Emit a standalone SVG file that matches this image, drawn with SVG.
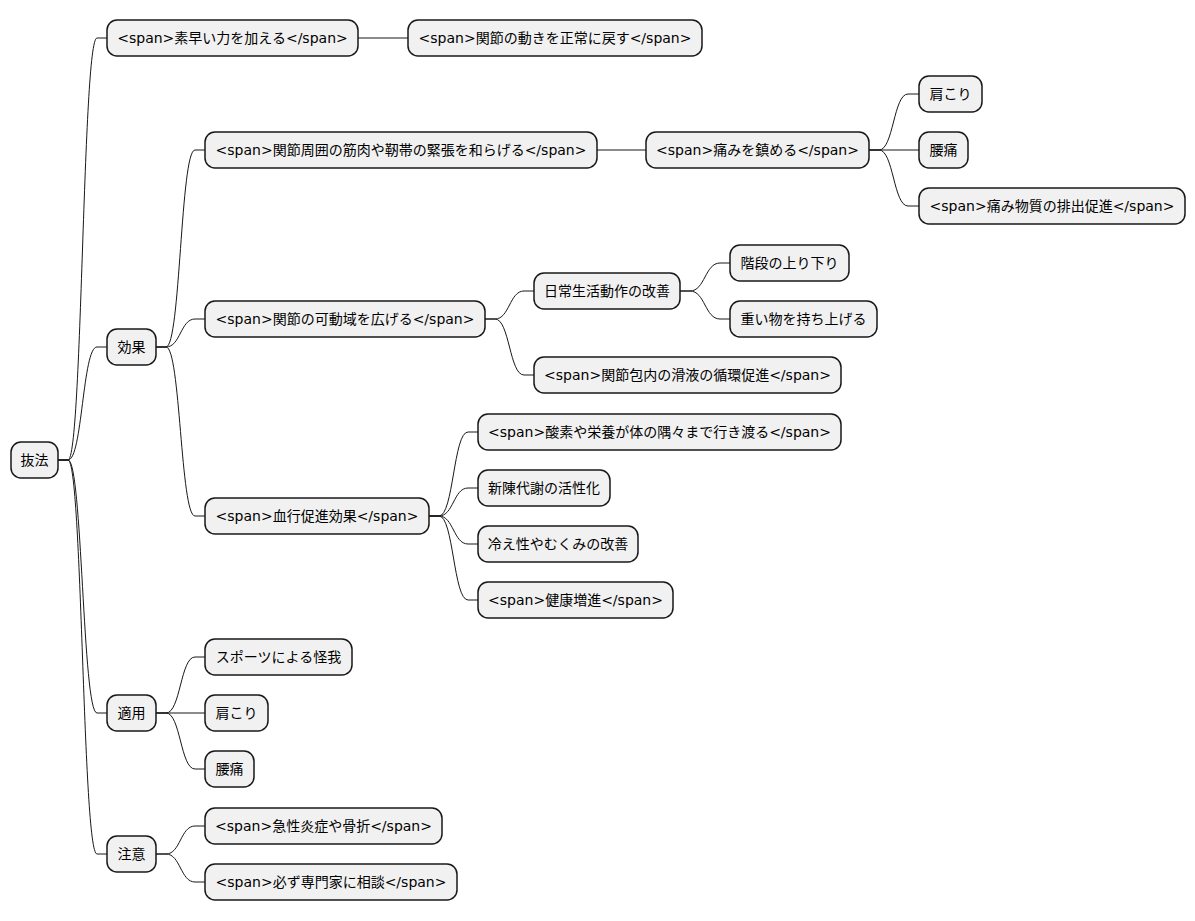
<svg xmlns="http://www.w3.org/2000/svg" width="1195" height="921" viewBox="0 0 1195 921">
<style>
.n rect{fill:#F1F1F1;stroke:#181818;stroke-width:1.5}
.n text{font-family:"DejaVu Sans","Noto Sans CJK JP",sans-serif;font-size:14px;fill:#000;text-anchor:middle}
#edges path{fill:none;stroke:#181818;stroke-width:1}
</style>
<rect width="1195" height="921" fill="#FFFFFF"/>
<g id="edges">
<path d="M58,460 L68,460 C82.5,460 82.5,38 97,38 L107,38"/>
<path d="M58,460 L68,460 C82.5,460 82.5,347 97,347 L107,347"/>
<path d="M58,460 L68,460 C82.5,460 82.5,713 97,713 L107,713"/>
<path d="M58,460 L68,460 C82.5,460 82.5,854 97,854 L107,854"/>
<path d="M358,38 L408,38"/>
<path d="M156,347 L166,347 C180.5,347 180.5,150 195,150 L205,150"/>
<path d="M156,347 L166,347 C180.5,347 180.5,319 195,319 L205,319"/>
<path d="M156,347 L166,347 C180.5,347 180.5,516 195,516 L205,516"/>
<path d="M597,150 L646,150"/>
<path d="M869,150 L879,150 C893.5,150 893.5,94 908,94 L919,94"/>
<path d="M869,150 L919,150"/>
<path d="M869,150 L879,150 C893.5,150 893.5,206 908,206 L919,206"/>
<path d="M485,319 L495,319 C509.5,319 509.5,291 524,291 L534,291"/>
<path d="M485,319 L495,319 C509.5,319 509.5,375 524,375 L534,375"/>
<path d="M680,291 L690,291 C705,291 705,263 720,263 L730,263"/>
<path d="M680,291 L690,291 C705,291 705,319 720,319 L730,319"/>
<path d="M429,516 L439,516 C453.5,516 453.5,432 468,432 L478,432"/>
<path d="M429,516 L439,516 C453.5,516 453.5,488 468,488 L478,488"/>
<path d="M429,516 L439,516 C453.5,516 453.5,544 468,544 L478,544"/>
<path d="M429,516 L439,516 C453.5,516 453.5,600 468,600 L478,600"/>
<path d="M156,713 L166,713 C180.5,713 180.5,657 195,657 L205,657"/>
<path d="M156,713 L205,713"/>
<path d="M156,713 L166,713 C180.5,713 180.5,769 195,769 L205,769"/>
<path d="M156,854 L166,854 C180.5,854 180.5,826 195,826 L205,826"/>
<path d="M156,854 L166,854 C180.5,854 180.5,882 195,882 L205,882"/>
</g>
<g id="root" class="n"><rect x="11" y="442" width="47" height="36" rx="10"/><text x="34.5" y="465">抜法</text></g>
<g id="n1" class="n"><rect x="107" y="20" width="251" height="36" rx="10"/><text x="232.5" y="43">&lt;span&gt;素早い力を加える&lt;/span&gt;</text></g>
<g id="n1a" class="n"><rect x="408" y="20" width="294" height="36" rx="10"/><text x="555" y="43">&lt;span&gt;関節の動きを正常に戻す&lt;/span&gt;</text></g>
<g id="n2" class="n"><rect x="107" y="329" width="49" height="36" rx="10"/><text x="131.5" y="352">効果</text></g>
<g id="n2a" class="n"><rect x="205" y="132" width="392" height="36" rx="10"/><text x="401" y="155">&lt;span&gt;関節周囲の筋肉や靭帯の緊張を和らげる&lt;/span&gt;</text></g>
<g id="n2a1" class="n"><rect x="646" y="132" width="223" height="36" rx="10"/><text x="757.5" y="155">&lt;span&gt;痛みを鎮める&lt;/span&gt;</text></g>
<g id="n2a1a" class="n"><rect x="919" y="76" width="63" height="36" rx="10"/><text x="950.5" y="99">肩こり</text></g>
<g id="n2a1b" class="n"><rect x="919" y="132" width="49" height="36" rx="10"/><text x="943.5" y="155">腰痛</text></g>
<g id="n2a1c" class="n"><rect x="919" y="188" width="266" height="36" rx="10"/><text x="1052" y="211">&lt;span&gt;痛み物質の排出促進&lt;/span&gt;</text></g>
<g id="n2b" class="n"><rect x="205" y="301" width="280" height="36" rx="10"/><text x="345" y="324">&lt;span&gt;関節の可動域を広げる&lt;/span&gt;</text></g>
<g id="n2b1" class="n"><rect x="534" y="273" width="146" height="36" rx="10"/><text x="607" y="296">日常生活動作の改善</text></g>
<g id="n2b1a" class="n"><rect x="730" y="245" width="119" height="36" rx="10"/><text x="789.5" y="268">階段の上り下り</text></g>
<g id="n2b1b" class="n"><rect x="730" y="301" width="147" height="36" rx="10"/><text x="803.5" y="324">重い物を持ち上げる</text></g>
<g id="n2b2" class="n"><rect x="534" y="357" width="307" height="36" rx="10"/><text x="687.5" y="380">&lt;span&gt;関節包内の滑液の循環促進&lt;/span&gt;</text></g>
<g id="n2c" class="n"><rect x="205" y="498" width="224" height="36" rx="10"/><text x="317" y="521">&lt;span&gt;血行促進効果&lt;/span&gt;</text></g>
<g id="n2c1" class="n"><rect x="478" y="414" width="363" height="36" rx="10"/><text x="659.5" y="437">&lt;span&gt;酸素や栄養が体の隅々まで行き渡る&lt;/span&gt;</text></g>
<g id="n2c2" class="n"><rect x="478" y="470" width="132" height="36" rx="10"/><text x="544" y="493">新陳代謝の活性化</text></g>
<g id="n2c3" class="n"><rect x="478" y="526" width="160" height="36" rx="10"/><text x="558" y="549">冷え性やむくみの改善</text></g>
<g id="n2c4" class="n"><rect x="478" y="582" width="195" height="36" rx="10"/><text x="575.5" y="605">&lt;span&gt;健康増進&lt;/span&gt;</text></g>
<g id="n3" class="n"><rect x="107" y="695" width="49" height="36" rx="10"/><text x="131.5" y="718">適用</text></g>
<g id="n3a" class="n"><rect x="205" y="639" width="147" height="36" rx="10"/><text x="278.5" y="662">スポーツによる怪我</text></g>
<g id="n3b" class="n"><rect x="205" y="695" width="63" height="36" rx="10"/><text x="236.5" y="718">肩こり</text></g>
<g id="n3c" class="n"><rect x="205" y="751" width="49" height="36" rx="10"/><text x="229.5" y="774">腰痛</text></g>
<g id="n4" class="n"><rect x="107" y="836" width="49" height="36" rx="10"/><text x="131.5" y="859">注意</text></g>
<g id="n4a" class="n"><rect x="205" y="808" width="237" height="36" rx="10"/><text x="323.5" y="831">&lt;span&gt;急性炎症や骨折&lt;/span&gt;</text></g>
<g id="n4b" class="n"><rect x="205" y="864" width="252" height="36" rx="10"/><text x="331" y="887">&lt;span&gt;必ず専門家に相談&lt;/span&gt;</text></g>
</svg>
